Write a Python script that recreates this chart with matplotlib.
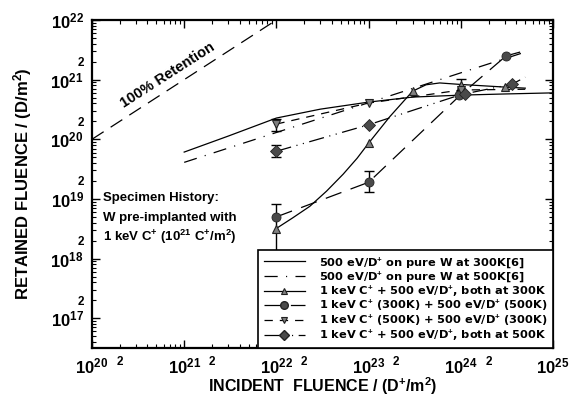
import numpy as np
import matplotlib
matplotlib.use('Agg')
import matplotlib.pyplot as plt
from matplotlib.lines import Line2D
from matplotlib.ticker import LogLocator, FuncFormatter

plt.rcParams['font.family'] = 'Liberation Sans'
plt.rcParams['font.weight'] = 'bold'
plt.rcParams['axes.labelweight'] = 'bold'
plt.rcParams['mathtext.fontset'] = 'custom'
plt.rcParams['mathtext.rm'] = 'Liberation Sans:bold'
plt.rcParams['mathtext.bf'] = 'Liberation Sans:bold'
plt.rcParams['mathtext.it'] = 'Liberation Sans:bold:italic'
plt.rcParams['mathtext.sf'] = 'Liberation Sans:bold'
plt.rcParams['mathtext.default'] = 'bf'
plt.rcParams['lines.scale_dashes'] = False

# 100% retention reference line
retention_x = [1e20, 1e22]
retention_y = [1e20, 1e22]

# pure W, 300K (solid) and 500K (dash-dot), ref [6]
pure300_x = [1e21, 3e21, 1e22, 3e22, 1e23, 3e23, 1e24, 3e24, 1e25]
pure300_y = [6.1e19, 1.13e20, 2.27e20, 3.2e20, 4.2e20, 5.1e20, 5.5e20, 5.75e20, 6.0e20]
pure500_x = [1e21, 1e22, 1e23, 1e24, 5e24]
pure500_y = [4.1e19, 1.3e20, 4.1e20, 1.3e21, 2.9e21]

# 1 keV C+ + 500 eV D+, both at 300K (triangles up)
c300_x = [1e22, 1e23, 3e23, 1e24, 3e24]
c300_y = [3.1e18, 8.6e19, 6.4e20, 8.1e20, 7.5e20]
c300_fit_x = [1e22, 1.5e22, 2.3e22, 3.5e22, 5.3e22, 7.5e22, 1e23, 1.7e23, 3e23, 4.2e23, 5.9e23, 1e24, 3e24, 5e24]
c300_fit_y = [3.2e18, 4.8e18, 7.5e18, 1.35e19, 2.6e19, 4.8e19, 8.6e19, 2.4e20, 6.4e20, 8.2e20, 8.8e20, 8.3e20, 7.5e20, 7.2e20]
c300_err_x = [1e24]
c300_err_lo = [6.4e20]
c300_err_hi = [1.02e21]

# 1 keV C+ (300K) + 500 eV D+ (500K) (circles)
c3d5_x = [1e22, 1e23, 0.95e24, 3.1e24]
c3d5_y = [5.0e18, 1.9e19, 5.6e20, 2.5e21]
c3d5_fit_x = [1e22, 1e23, 1e24, 3.1e24, 4.4e24]
c3d5_fit_y = [5.0e18, 1.9e19, 5.6e20, 2.5e21, 2.9e21]
c3d5_err_x = [1e22, 1e23]
c3d5_err_lo = [1e17, 1.3e19]
c3d5_err_hi = [8.2e18, 2.9e19]

# 1 keV C+ (500K) + 500 eV D+ (300K) (triangles down)
c5d3_x = [1e22, 1e23, 1e24]
c5d3_y = [1.8e20, 4.05e20, 6.7e20]
c5d3_fit_x = [1e22, 1e23, 1e24, 5e24]
c5d3_fit_y = [1.8e20, 4.05e20, 6.7e20, 6.9e20]
c5d3_err_x = [1e22]
c5d3_err_lo = [1.4e20]
c5d3_err_hi = [2.2e20]

# 1 keV C+ + 500 eV D+, both at 500K (diamonds)
c500_x = [1e22, 1e23, 1.1e24, 3.6e24]
c500_y = [6.3e19, 1.75e20, 5.7e20, 8.4e20]
c500_fit_x = [1e22, 1e23, 1e24, 3.6e24, 5e24]
c500_fit_y = [6.3e19, 1.75e20, 5.6e20, 8.4e20, 1.1e21]
c500_err_x = [1e22]
c500_err_lo = [5.0e19]
c500_err_hi = [8.0e19]

labels = ['500 eV/D$^{+}$ on pure W at 300K[6]',
          '500 eV/D$^{+}$ on pure W at 500K[6]',
          '1 keV C$^{+}$ + 500 eV/D$^{+}$, both at 300K',
          '1 keV C$^{+}$ (300K) + 500 eV/D$^{+}$ (500K)',
          '1 keV C$^{+}$ (500K) + 500 eV/D$^{+}$ (300K)',
          '1 keV C$^{+}$ + 500 eV/D$^{+}$, both at 500K']

dash_pure500 = (0, (9.5, 6, 0.8, 6))
dash_c3d5 = (0, (12, 7))
dash_c5d3 = (0, (6, 5))
dash_c500 = (0, (11, 4, 0.8, 4, 0.8, 4))
lw = 0.9
dark = '#4a4a4a'
mid = '#808080'

fig = plt.figure(figsize=(5.72, 3.96), dpi=100)
ax = fig.add_axes([0.1608, 0.1212, 0.806, 0.8283])
ax.set_xscale('log')
ax.set_yscale('log')

ax.plot(retention_x, retention_y, color='black', lw=lw, linestyle=(0, (10, 6)))
ax.text(6.7e20, 1.19e21, '100% Retention', rotation=32.7, ha='center', va='center',
        fontsize=10.5)

ax.plot(pure300_x, pure300_y, color='black', lw=lw)
ax.plot(pure500_x, pure500_y, color='black', lw=lw, linestyle=dash_pure500)

ax.plot(c300_fit_x, c300_fit_y, color='black', lw=lw)
ax.plot(c3d5_fit_x, c3d5_fit_y, color='black', lw=lw, linestyle=dash_c3d5)
ax.plot(c5d3_fit_x, c5d3_fit_y, color='black', lw=lw, linestyle=dash_c5d3)
ax.plot(c500_fit_x, c500_fit_y, color='black', lw=lw, linestyle=dash_c500)

for ex, lo, hi in [(c300_err_x, c300_err_lo, c300_err_hi),
                   (c3d5_err_x, c3d5_err_lo, c3d5_err_hi),
                   (c5d3_err_x, c5d3_err_lo, c5d3_err_hi),
                   (c500_err_x, c500_err_lo, c500_err_hi)]:
    mid_y = np.sqrt(np.array(lo) * np.array(hi))
    ax.errorbar(ex, mid_y, yerr=[mid_y - np.array(lo), np.array(hi) - mid_y],
                fmt='none', ecolor='black', elinewidth=1.0, capsize=3.5, capthick=1.0)

ax.plot(c300_x, c300_y, linestyle='none', marker='^', ms=6, mfc=mid, mec='#222222', mew=0.8)
ax.plot(c3d5_x, c3d5_y, linestyle='none', marker='o', ms=6.5, mfc=dark, mec='#222222', mew=0.6)
ax.plot(c5d3_x, c5d3_y, linestyle='none', marker='v', ms=6, mfc=mid, mec='#222222', mew=0.8)
ax.plot(c500_x, c500_y, linestyle='none', marker='D', ms=6, mfc=dark, mec='#222222', mew=0.6)

ax.set_xlim(1e20, 1e25)
ax.set_ylim(10 ** 16.5, 1e22)

for axis in (ax.xaxis, ax.yaxis):
    axis.set_major_locator(LogLocator(base=10, numticks=20))
    axis.set_minor_locator(LogLocator(base=10, subs=np.arange(2, 10), numticks=20))
    axis.set_major_formatter(FuncFormatter(lambda v, p: r'$10^{%d}$' % round(np.log10(v))))
    axis.set_minor_formatter(FuncFormatter(
        lambda v, p: '2' if abs(v / 10 ** np.floor(np.log10(v)) - 2) < 0.01 else ''))

ax.tick_params(which='both', direction='in', top=True, right=True)
ax.tick_params(which='major', length=6, width=1, labelsize=12, pad=6)
ax.tick_params(which='minor', length=3, width=0.8, labelsize=8.5, pad=6)
for s in ax.spines.values():
    s.set_linewidth(1.6)

ax.set_ylabel('RETAINED FLUENCE / (D/m$^{2}$)', fontsize=12, labelpad=12)
ax.set_xlabel('INCIDENT  FLUENCE / (D$^{+}$/m$^{2}$)', fontsize=11.5, labelpad=-1)

ax.text(0.024, 0.457, 'Specimen History:', transform=ax.transAxes, fontsize=9.5, va='center')
ax.text(0.024, 0.396, 'W pre-implanted with', transform=ax.transAxes, fontsize=9.5, va='center')
ax.text(0.024, 0.338, '1 keV C$^{+}$ (10$^{21}$ C$^{+}$/m$^{2}$)', transform=ax.transAxes,
        fontsize=9.5, va='center')

handles = [
    Line2D([], [], color='black', lw=lw),
    Line2D([], [], color='black', lw=lw, linestyle=dash_pure500),
    Line2D([], [], color='black', lw=lw, marker='^', ms=5, mfc=mid, mec='#222222', mew=0.8),
    Line2D([], [], color='black', lw=lw, linestyle=dash_c3d5, marker='o', ms=5.5, mfc=dark, mec='#222222'),
    Line2D([], [], color='black', lw=lw, linestyle=dash_c5d3, marker='v', ms=5, mfc=mid, mec='#222222', mew=0.8),
    Line2D([], [], color='black', lw=lw, linestyle=dash_c500, marker='D', ms=5, mfc=dark, mec='#222222'),
]
leg = ax.legend(handles, labels, loc='lower right', borderaxespad=0, fancybox=False,
                edgecolor='black', framealpha=1, handlelength=3.6, handletextpad=1.3,
                labelspacing=-0.05, borderpad=0.45,
                prop={'family': 'DejaVu Sans', 'weight': 'bold', 'size': 8.2})
leg.get_frame().set_linewidth(1.2)

fig.savefig('out.png', dpi=100)
